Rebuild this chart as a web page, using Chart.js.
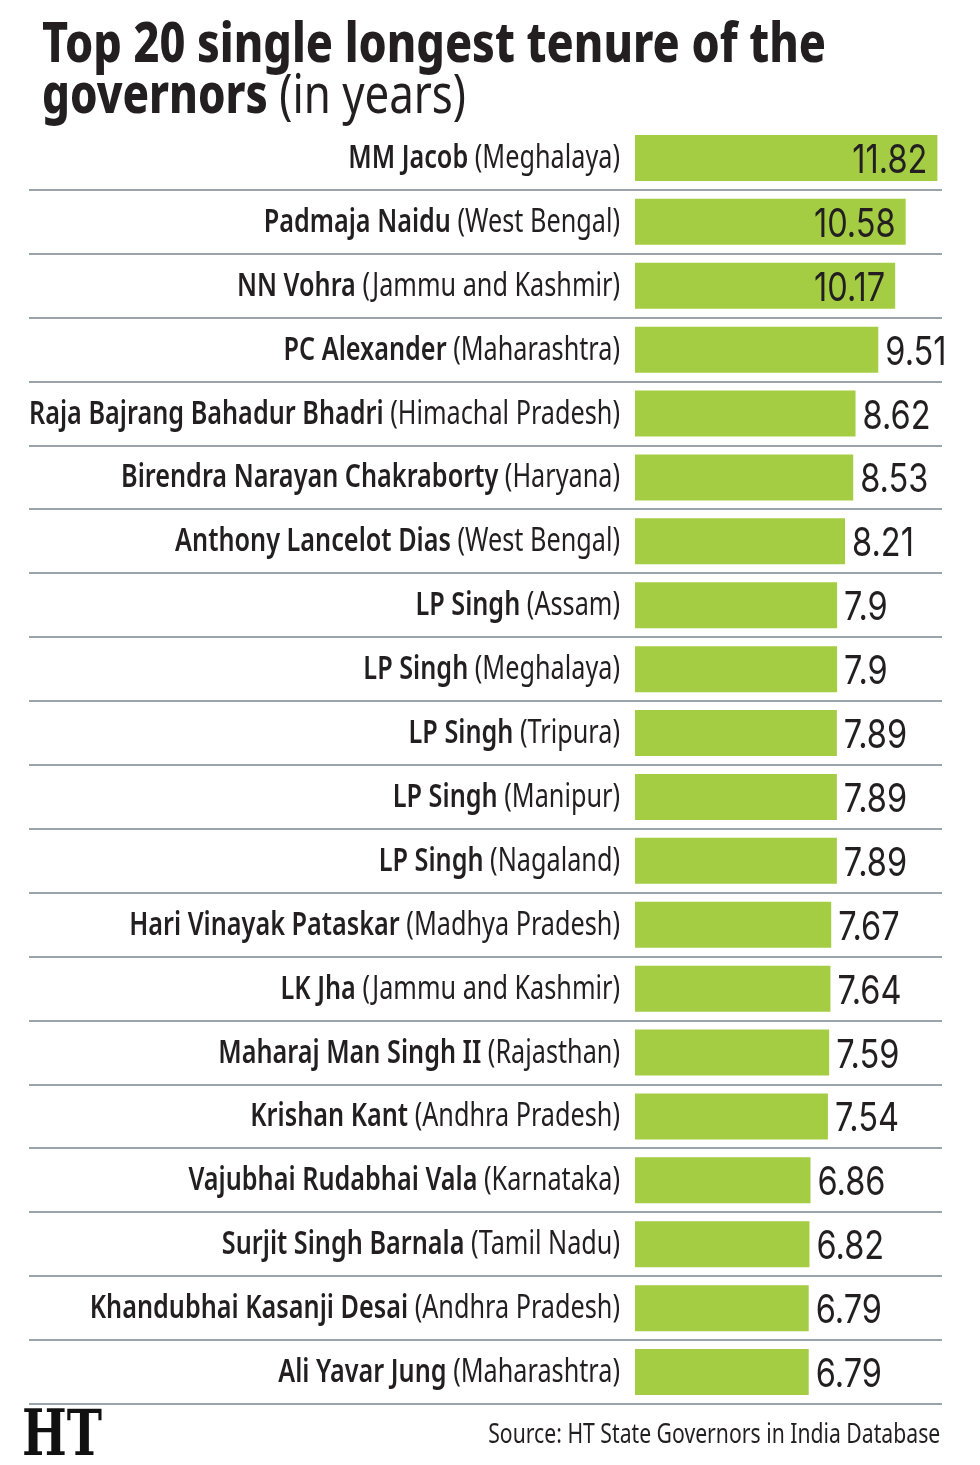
<!DOCTYPE html>
<html><head><meta charset="utf-8">
<script src="https://cdn.jsdelivr.net/npm/chart.js@4/dist/chart.umd.min.js"></script>
<style>
html,body{margin:0;padding:0;background:#fff;}
#wrap{position:relative;width:980px;height:1465px;overflow:hidden;background:#fff;}
#cv{position:absolute;left:0;top:0;}
.t{position:absolute;white-space:nowrap;color:#231f20;font-family:"Noto Sans",sans-serif;}
.line{position:absolute;left:42px;font-size:55px;line-height:51px;transform-origin:0 0;}
.line b{font-weight:800;}
.line span{font-weight:400;}
#t1{top:15px;}
#t2{top:66px;}
#source{right:40px;top:1417.5px;font-size:27px;line-height:30px;transform-origin:100% 0;}
#logo{left:22px;top:1401px;font-family:"DejaVu Serif",serif;font-weight:bold;font-size:64px;line-height:64px;transform-origin:0 0;color:#111;}
</style>
</head>
<body>
<div id="wrap">
<canvas id="cv" width="980" height="1465"></canvas>
<div class="t line" id="t1"><b>Top 20 single longest tenure of the</b></div>
<div class="t line" id="t2"><b>governors</b><span> (in years)</span></div>
<div class="t" id="source">Source: HT State Governors in India Database</div>
<div class="t" id="logo">HT</div>
</div>
<script>
// ---- data ----
const names = ["MM Jacob","Padmaja Naidu","NN Vohra","PC Alexander","Raja Bajrang Bahadur Bhadri","Birendra Narayan Chakraborty","Anthony Lancelot Dias","LP Singh","LP Singh","LP Singh","LP Singh","LP Singh","Hari Vinayak Pataskar","LK Jha","Maharaj Man Singh II","Krishan Kant","Vajubhai Rudabhai Vala","Surjit Singh Barnala","Khandubhai Kasanji Desai","Ali Yavar Jung"];
const states = ["Meghalaya","West Bengal","Jammu and Kashmir","Maharashtra","Himachal Pradesh","Haryana","West Bengal","Assam","Meghalaya","Tripura","Manipur","Nagaland","Madhya Pradesh","Jammu and Kashmir","Rajasthan","Andhra Pradesh","Karnataka","Tamil Nadu","Andhra Pradesh","Maharashtra"];
const values = [11.82,10.58,10.17,9.51,8.62,8.53,8.21,7.9,7.9,7.89,7.89,7.89,7.67,7.64,7.59,7.54,6.86,6.82,6.79,6.79];
const valueLabels = ["11.82","10.58","10.17","9.51","8.62","8.53","8.21","7.9","7.9","7.89","7.89","7.89","7.67","7.64","7.59","7.54","6.86","6.82","6.79","6.79"];
const categories = names.map((n,i)=>n+" ("+states[i]+")");

// ---- styles ----
const BAR = "#a5cd44";
const INK = "#231f20";
const RULE = "#9aa4ab";
const FAM = '"Noto Sans", sans-serif';
const NUMFAM = 'Inter, "Noto Sans", sans-serif';

function fit(el, target){ const w = el.getBoundingClientRect().width; const s = target / w; el.style.transform = "scaleX("+s+")"; return s; }
fit(document.getElementById("t1"), 784);
fit(document.getElementById("t2"), 424);
fit(document.getElementById("source"), 452);
fit(document.getElementById("logo"), 80);

const rowPlugin = {
  id: "rows",
  beforeDatasetsDraw(chart){
    const ctx = chart.ctx, y = chart.scales.y;
    const pitch = Math.abs(y.getPixelForValue(1) - y.getPixelForValue(0));
    ctx.save();
    ctx.strokeStyle = RULE; ctx.lineWidth = 2;
    for (let i = 0; i < categories.length; i++){
      const yy = Math.round(y.getPixelForValue(i) + pitch/2);
      ctx.beginPath(); ctx.moveTo(29, yy); ctx.lineTo(chart.chartArea.right, yy); ctx.stroke();
    }
    ctx.restore();
  },
  afterDatasetsDraw(chart){
    const ctx = chart.ctx, y = chart.scales.y, x = chart.scales.x;
    ctx.save();
    ctx.fillStyle = INK;
    ctx.textBaseline = "alphabetic";
    const fb = "600 32px " + FAM, fr = "32px " + FAM;
    function widths(i){
      ctx.font = fb; const wn = ctx.measureText(names[i]).width;
      ctx.font = fr; const ws = ctx.measureText(" ("+states[i]+")").width;
      return [wn, ws];
    }
    const ref = widths(4);
    const s = 591 / (ref[0] + ref[1]);
    for (let i = 0; i < categories.length; i++){
      const cy = y.getPixelForValue(i);
      const [wn, ws] = widths(i);
      ctx.save();
      ctx.translate(620, cy + 10);
      ctx.scale(s, 1);
      ctx.textAlign = "right";
      ctx.font = fr; ctx.fillText(" ("+states[i]+")", 0, 0);
      ctx.font = fb; ctx.fillText(names[i], -ws, 0);
      ctx.restore();
    }
    ctx.font = "40px " + NUMFAM;
    const vs = 68 / ctx.measureText("6.86").width;
    for (let i = 0; i < values.length; i++){
      const cy = y.getPixelForValue(i);
      const xe = x.getPixelForValue(values[i]);
      ctx.save();
      if (values[i] >= 10){
        ctx.translate(xe - 10, cy + 15); ctx.scale(vs, 1); ctx.textAlign = "right";
      } else {
        ctx.translate(xe + 7, cy + 15); ctx.scale(vs, 1); ctx.textAlign = "left";
      }
      ctx.fillText(valueLabels[i], 0, 0);
      ctx.restore();
    }
    ctx.restore();
  }
};

new Chart(document.getElementById("cv"), {
  type: "bar",
  data: { labels: categories, datasets: [{ data: values, backgroundColor: BAR, borderWidth: 0, barPercentage: 0.72, categoryPercentage: 1 }] },
  options: {
    indexAxis: "y", responsive: false, animation: false, devicePixelRatio: 1,
    layout: { padding: { left: 635, right: 38, top: 126, bottom: 61 } },
    scales: { x: { display: false, min: 0, max: 12 }, y: { display: false } },
    plugins: { legend: { display: false }, tooltip: { enabled: false } }
  },
  plugins: [rowPlugin]
});
</script>
</body></html>
